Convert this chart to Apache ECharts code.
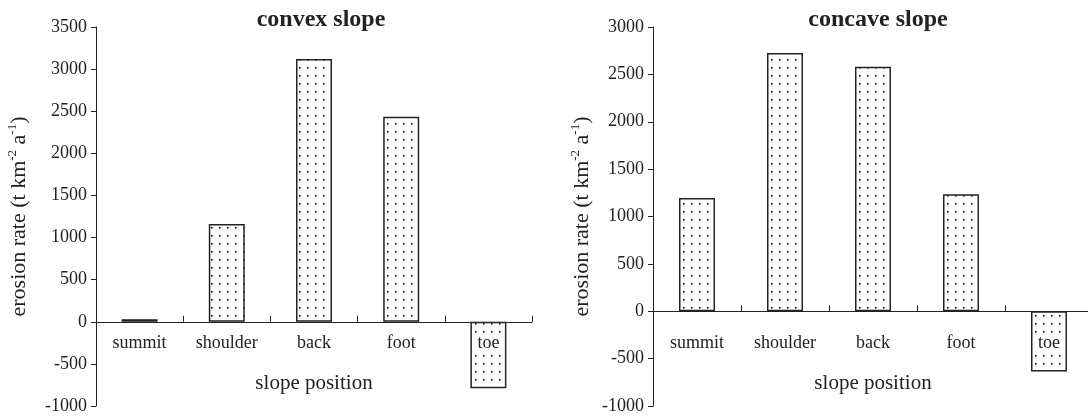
<!DOCTYPE html>
<html lang="en">
<head>
  <meta charset="UTF-8">
  <title>erosion rate by slope position</title>
  <script src="https://cdn.jsdelivr.net/npm/echarts@6/dist/echarts.min.js"></script>
  <style>html, body { margin: 0; padding: 0; background: #fff; }</style>
</head>
<body>
  <div id="main" style="width:1088px;height:420px;"></div>
  <script>
    // data
    var positions = ['summit', 'shoulder', 'back', 'foot', 'toe']
    var convexRates = [30, 1160, 3120, 2435, -790]
    var concaveRates = [1195, 2725, 2580, 1235, -635]
    var convexRange = [-1000, 3500]
    var concaveRange = [-1000, 3000]

    var ink = '#222'
    var serif = '"Liberation Serif", "Times New Roman", serif'
    var plotTop = 27
    var plotHeight = 379

    // dotted fill like the printed figure
    var tile = document.createElement('canvas')
    tile.width = 8
    tile.height = 8
    var ctx = tile.getContext('2d')
    ctx.fillStyle = '#fff'
    ctx.fillRect(0, 0, 8, 8)
    ctx.fillStyle = '#111'
    ctx.fillRect(3, 3, 1.6, 1.6)
    var dots = { image: tile, repeat: 'repeat' }

    var myChart = echarts.init(document.getElementById('main'))

    var yName = '{n|erosion rate (t km}{s|-2}{n| a}{s|-1}{n|)}'

    // lift the category axis (line, ticks, labels) up to the zero line
    function zeroOffset(range) {
      return -plotHeight * (0 - range[0]) / (range[1] - range[0])
    }

    function xAxisOf(gridIndex, range, margin, nameGap) {
      return {
        type: 'category',
        gridIndex: gridIndex,
        position: 'bottom',
        offset: zeroOffset(range),
        data: positions,
        boundaryGap: true,
        z: 5,
        name: 'slope position',
        nameLocation: 'middle',
        nameGap: nameGap,
        nameTextStyle: { fontFamily: serif, fontSize: 21, color: ink },
        axisLine: { onZero: false, lineStyle: { color: ink, width: 1 } },
        axisTick: { show: true, interval: 0, inside: true, length: 6, lineStyle: { color: ink, width: 1 } },
        axisLabel: {
          fontFamily: serif, fontSize: 18, color: ink, margin: margin,
          // the toe label sits on its bar, on a white patch as in the print
          formatter: function (v) { return v === 'toe' ? '{w|' + v + '}' : v },
          rich: { w: { fontFamily: serif, fontSize: 18, color: ink, backgroundColor: '#fff', padding: [0, 4] } }
        },
        splitLine: { show: false }
      }
    }

    function yAxisOf(gridIndex, range, nameGap) {
      return {
        type: 'value',
        gridIndex: gridIndex,
        min: range[0],
        max: range[1],
        interval: 500,
        name: yName,
        nameLocation: 'middle',
        nameGap: nameGap,
        nameTextStyle: {
          rich: {
            n: { fontFamily: serif, fontSize: 22, color: ink, lineHeight: 26 },
            s: { fontFamily: serif, fontSize: 13, color: ink, verticalAlign: 'top', lineHeight: 26 }
          }
        },
        axisLine: { show: true, lineStyle: { color: ink, width: 1 } },
        axisTick: { show: true, length: 5, lineStyle: { color: ink } },
        axisLabel: {
          fontFamily: serif, fontSize: 18, color: ink, margin: 9,
          formatter: function (v) { return String(v) }
        },
        splitLine: { show: false }
      }
    }

    function barsOf(index, values) {
      return {
        type: 'bar',
        xAxisIndex: index,
        yAxisIndex: index,
        data: values,
        barWidth: 36,
        itemStyle: { color: dots, borderColor: ink, borderWidth: 1.5 },
        emphasis: { disabled: true }
      }
    }

    var options = {
      animation: false,
      title: [
        { text: 'convex slope', left: 316, top: 3, textAlign: 'center',
          textStyle: { fontFamily: serif, fontSize: 24, fontWeight: 'bold', color: ink } },
        { text: 'concave slope', left: 873, top: 3, textAlign: 'center',
          textStyle: { fontFamily: serif, fontSize: 24, fontWeight: 'bold', color: ink } }
      ],
      grid: [
        { left: 96, top: plotTop, width: 436, height: plotHeight, outerBoundsMode: 'none', containLabel: false },
        { left: 653, top: plotTop, width: 440, height: plotHeight, outerBoundsMode: 'none', containLabel: false }
      ],
      xAxis: [xAxisOf(0, convexRange, 12, 51), xAxisOf(1, concaveRange, 23, 62)],
      yAxis: [yAxisOf(0, convexRange, 64), yAxisOf(1, concaveRange, 58)],
      series: [barsOf(0, convexRates), barsOf(1, concaveRates)]
    }
    myChart.setOption(options)
  </script>
</body>
</html>
